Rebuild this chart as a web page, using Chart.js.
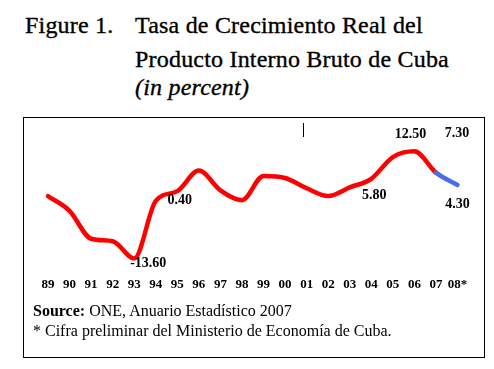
<!DOCTYPE html>
<html>
<head>
<meta charset="utf-8">
<script src="https://cdn.jsdelivr.net/npm/chart.js@4"></script>
<style>
  html, body { margin: 0; padding: 0; background: #fff; }
  body { width: 494px; height: 369px; position: relative; overflow: hidden; font-family: "Liberation Serif", "DejaVu Serif", serif; color: #000; }
  .t { position: absolute; white-space: nowrap; line-height: 1; }
  .title { font-size: 24px; letter-spacing: 0.2px; -webkit-text-stroke: 0.35px #000; }
  #box { position: absolute; left: 23px; top: 117px; width: 460px; height: 239px; border: 1.5px solid #000; }
  #chartWrap { position: absolute; left: 24px; top: 118px; width: 460px; height: 190px; }
  .src { font-size: 16px; }
  #cursor { position: absolute; left: 303px; top: 123px; width: 1px; height: 14px; background: #000; }
</style>
</head>
<body>
<div class="t title" style="left:25px; top:13px;">Figure 1.</div>
<div class="t title" style="left:135px; top:13px;">Tasa de Crecimiento Real del</div>
<div class="t title" style="left:135px; top:47px;">Producto Interno Bruto de Cuba</div>
<div class="t title" style="left:135px; top:75px; font-style:italic;">(in percent)</div>

<div id="box"></div>
<div id="cursor"></div>
<div id="chartWrap"><canvas id="gdpChart"></canvas></div>

<div class="t src" style="left:33px; top:303px;"><b>Source:</b> ONE, Anuario Estadístico 2007</div>
<div class="t src" style="left:33px; top:323px;">* Cifra preliminar del Ministerio de Economía de Cuba.</div>

<script>
const years = ['89', '90', '91', '92', '93', '94', '95', '96', '97', '98', '99', '00', '01', '02', '03', '04', '05', '06', '07', '08*'];
const growth = [1.6, -2.0, -8.8, -9.4, -13.6, 0.4, 2.8, 7.8, 3.0, 0.6, 6.5, 6.0, 3.5, 1.6, 3.7, 5.8, 11.1, 12.5, 7.3, 4.3];
// labelled points: index into years, shown text
const labelIdx = [4, 5, 15, 17, 18, 19];
const labelText = ['-13.60', '0.40', '5.80', '12.50', '7.30', '4.30'];

// where each label sits relative to its point (px)
const labelOffsets = [[14, 5], [24, -1], [3, 17], [-4, -17], [21, -39], [0, 19]];

const RED = '#ff0000';
const BLUE = '#4a6ee8';

const pointLabels = {
  id: 'pointLabels',
  afterDatasetsDraw(chart) {
    const ctx = chart.ctx;
    const meta = chart.getDatasetMeta(0);
    ctx.save();
    ctx.font = 'bold 14px "Liberation Serif"';
    ctx.fillStyle = '#000';
    ctx.textAlign = 'center';
    ctx.textBaseline = 'middle';
    labelIdx.forEach((idx, i) => {
      const p = meta.data[idx];
      ctx.fillText(labelText[i], p.x + labelOffsets[i][0], p.y + labelOffsets[i][1]);
    });
    ctx.restore();
  }
};

new Chart(document.getElementById('gdpChart'), {
  type: 'line',
  data: {
    labels: years,
    datasets: [{
      data: growth,
      borderColor: RED,
      borderWidth: 4.5,
      pointRadius: 0,
      cubicInterpolationMode: 'monotone',
      borderCapStyle: 'round',
      borderJoinStyle: 'round',
      fill: false,
      clip: false,
      segment: {
        borderColor: (c) => (c.p0DataIndex >= 18 ? BLUE : RED)
      }
    }]
  },
  options: {
    responsive: true,
    maintainAspectRatio: false,
    animation: false,
    events: [],
    layout: { padding: { left: 24, right: 26.5, top: 2.5, bottom: 12 } },
    plugins: {
      legend: { display: false },
      tooltip: { enabled: false }
    },
    scales: {
      x: {
        offset: false,
        grid: { display: false, drawTicks: false },
        border: { display: false },
        ticks: {
          color: '#000',
          padding: 4,
          autoSkip: false,
          maxRotation: 0,
          font: { family: 'Liberation Serif', size: 13, weight: 'bold' }
        }
      },
      y: {
        display: false,
        min: -17,
        max: 20
      }
    }
  },
  plugins: [pointLabels]
});
</script>
</body>
</html>
